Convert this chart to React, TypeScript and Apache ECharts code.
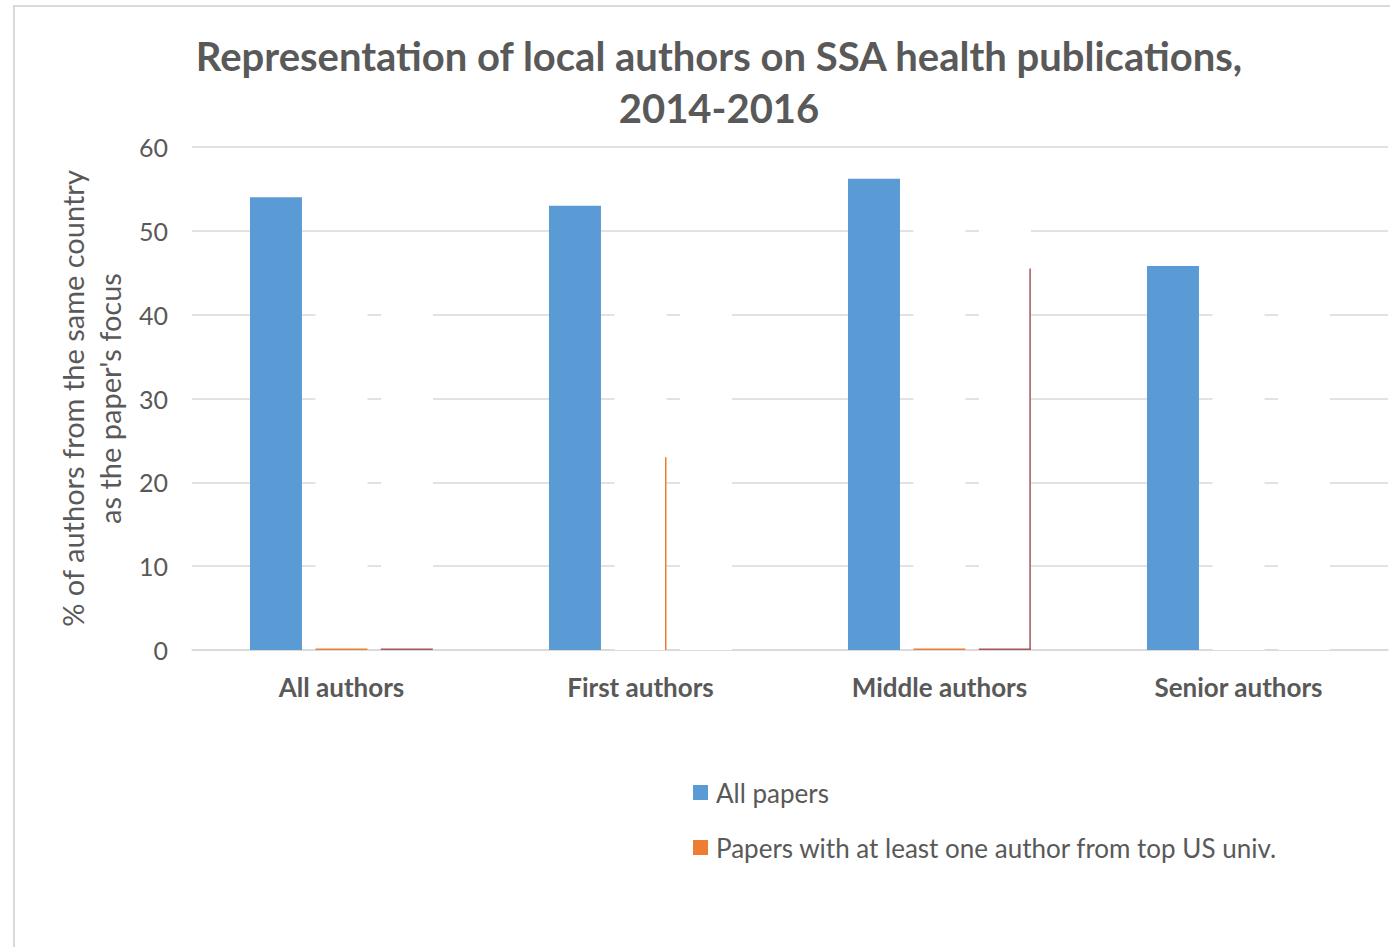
import React, { useEffect, useRef } from "react";
import * as echarts from "echarts";

const categories = ["All authors", "First authors", "Middle authors", "Senior authors"];
const allPapers = [54, 53, 56.2, 45.8];
// white (unfilled) bars of the two other series, as they mask the gridlines
const maskTopUs = [45, 45, 55, 45];
const maskOther = [45, 45, 55, 45];
// visible outline fragments: baseline segments and right-edge lines
const topUsBase = [0.1, null, 0.1, null];
const topUsEdge = [null, 23, null, null];
const otherBase = [0.1, null, 0.1, null];
const otherEdge = [null, null, 45.5, null];
const yTicks = [0, 10, 20, 30, 40, 50, 60];

const FONT = "Lato, 'Noto Sans', sans-serif";
const GREY = "#595959";

function buildData(base: (number | null)[], edge: (number | null)[]) {
  const out: number[][] = [];
  base.forEach((v, i) => {
    if (v !== null) out.push([i, v, 0]);
  });
  edge.forEach((v, i) => {
    if (v !== null) out.push([i, v, 1]);
  });
  return out;
}

function makeRender(slot: number, color: string) {
  return (params: any, api: any) => {
    const idx = api.value(0);
    const val = api.value(1);
    const kind = api.value(2);
    const base = api.coord([idx, 0]);
    const top = api.coord([idx, val]);
    const band = api.size([1, 0])[0];
    const cx = base[0] + slot * band * 0.2185;
    const half = 26;
    if (kind === 0) {
      return {
        type: "rect",
        shape: { x: cx - half, y: base[1] - 1.5, width: half * 2, height: 1.5 },
        style: { fill: color },
      };
    }
    return {
      type: "rect",
      shape: { x: cx + half - 1.5, y: top[1], width: 1.5, height: base[1] - top[1] },
      style: { fill: color },
    };
  };
}

export default function App() {
  const ref = useRef<HTMLDivElement>(null);
  useEffect(() => {
    if (!ref.current) return;
    const chart = echarts.init(ref.current, undefined, { renderer: "svg" });
    chart.setOption({
      animation: false,
      backgroundColor: "#ffffff",
      title: {
        text: "Representation of local authors on SSA health publications,\n2014-2016",
        left: 714,
        top: 25,
        textAlign: "center",
        textStyle: {
          fontFamily: FONT,
          fontSize: 40,
          fontWeight: "bold",
          color: GREY,
          lineHeight: 52,
        },
      },
      graphic: [
        {
          type: "rect",
          shape: { x: 14, y: 6, width: 1400, height: 1000 },
          style: { fill: "none", stroke: "#d9d9d9", lineWidth: 2 },
          silent: true,
        },
      ],
      legend: {
        orient: "vertical",
        left: 693,
        top: 777,
        padding: 0,
        itemWidth: 15,
        itemHeight: 15,
        itemGap: 24,
        icon: "rect",
        textStyle: {
          fontFamily: FONT,
          fontSize: 26,
          color: GREY,
          lineHeight: 31,
          padding: [0, 0, 0, 3],
        },
        data: ["All papers", "Papers with at least one author from top US univ."],
      },
      grid: { left: 192, right: 2, top: 147, bottom: 297, containLabel: false },
      xAxis: {
        type: "category",
        data: categories,
        axisLine: { lineStyle: { color: "#d9d9d9", width: 1.5 } },
        axisTick: { show: false },
        axisLabel: {
          fontFamily: FONT,
          fontSize: 26,
          fontWeight: "bold",
          color: GREY,
          margin: 24,
        },
      },
      yAxis: {
        type: "value",
        min: 0,
        max: 60,
        interval: 10,
        name: "% of authors from the same country\nas the paper's focus",
        nameLocation: "middle",
        nameRotate: 90,
        nameGap: 62,
        nameTextStyle: { fontFamily: FONT, fontSize: 29, color: GREY, lineHeight: 37 },
        axisLine: { show: false },
        axisTick: { show: false },
        axisLabel: {
          fontFamily: FONT,
          fontSize: 25,
          color: GREY,
          margin: 24,
          formatter: (v: number) => (yTicks.includes(v) ? String(v) : ""),
        },
        splitLine: { lineStyle: { color: "#d9d9d9", width: 1.5 } },
      },
      series: [
        {
          name: "All papers",
          type: "bar",
          data: allPapers,
          barWidth: 52,
          barGap: "26%",
          itemStyle: { color: "#5B9BD5" },
        },
        {
          name: "maskTopUs",
          type: "bar",
          data: maskTopUs,
          barWidth: 52,
          barGap: "26%",
          silent: true,
          itemStyle: { color: "#ffffff", borderColor: "#ffffff", borderWidth: 8 },
        },
        {
          name: "maskOther",
          type: "bar",
          data: maskOther,
          barWidth: 52,
          barGap: "26%",
          silent: true,
          itemStyle: { color: "#ffffff", borderColor: "#ffffff", borderWidth: 8 },
        },
        {
          name: "Papers with at least one author from top US univ.",
          type: "custom",
          z: 5,
          itemStyle: { color: "#ED7D31" },
          renderItem: makeRender(0, "#ED7D31"),
          data: buildData(topUsBase, topUsEdge),
        },
        {
          name: "Other",
          type: "custom",
          z: 5,
          itemStyle: { color: "#A5555A" },
          renderItem: makeRender(1, "#A5555A"),
          data: buildData(otherBase, otherEdge),
        },
      ],
    });
    return () => chart.dispose();
  }, []);
  return (
    <div
      ref={ref}
      style={{ position: "fixed", left: 0, top: 0, width: 1390, height: 947 }}
    />
  );
}
